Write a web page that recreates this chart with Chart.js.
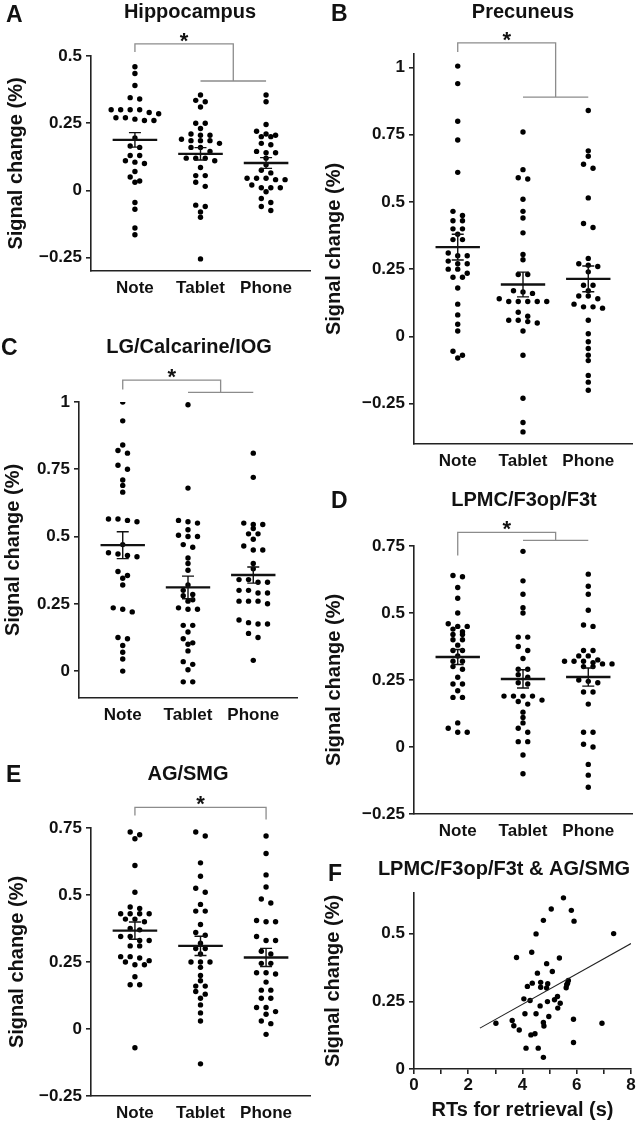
<!DOCTYPE html>
<html>
<head>
<meta charset="utf-8">
<title>Signal change by device</title>
<script src="https://cdn.jsdelivr.net/npm/chart.js@4.4.1/dist/chart.umd.min.js"></script>
<style>
    body { margin: 0; background: #fff; }
    #fig { position: relative; width: 638px; height: 1123px; }
    #fig canvas { position: absolute; }
</style>
</head>
<body>
<div id="fig">
    <canvas id="chartA" width="320" height="300" style="left:0;top:0"></canvas>
    <canvas id="chartB" width="318" height="470" style="left:320px;top:0"></canvas>
    <canvas id="chartC" width="320" height="400" style="left:0;top:330px"></canvas>
    <canvas id="chartD" width="318" height="370" style="left:320px;top:480px"></canvas>
    <canvas id="chartE" width="320" height="383" style="left:0;top:740px"></canvas>
    <canvas id="chartF" width="318" height="273" style="left:320px;top:850px"></canvas>
</div>
<script>
// --- Data ---
const groupNames = ['Note', 'Tablet', 'Phone'];

// A: Hippocampus
const hippoNote = [0.46, 0.435, 0.39, 0.345, 0.34, 0.30, 0.30, 0.30, 0.30, 0.29, 0.285, 0.27, 0.27, 0.265, 0.26, 0.26,
    0.195, 0.165, 0.16, 0.13, 0.13, 0.11, 0.105, 0.10, 0.07, 0.05, 0.035, 0.03, -0.045, -0.07, -0.14, -0.165];
const hippoTablet = [0.355, 0.335, 0.33, 0.31, 0.25, 0.25, 0.23, 0.21, 0.205, 0.205, 0.19, 0.185, 0.185, 0.185, 0.175, 0.16,
    0.16, 0.145, 0.12, 0.12, 0.12, 0.11, 0.085, 0.055, 0.055, 0.03, 0.015, -0.055, -0.06, -0.08, -0.10, -0.255];
const hippoPhone = [0.355, 0.33, 0.245, 0.22, 0.21, 0.205, 0.20, 0.20, 0.175, 0.17, 0.145, 0.14, 0.14, 0.12, 0.095, 0.075,
    0.065, 0.045, 0.045, 0.045, 0.04, 0.04, 0.02, 0.01, 0.01, 0.01, -0.005, -0.03, -0.045, -0.06, -0.075];
const hippoMean = [0.188, 0.136, 0.102];
const hippoSem = [0.027, 0.023, 0.020];
const hippoTicks = [-0.25, 0, 0.25, 0.5];

// B: Precuneus
const precNote = [1.005, 0.94, 0.80, 0.73, 0.61, 0.465, 0.45, 0.43, 0.43, 0.40, 0.40, 0.38, 0.36, 0.36, 0.31, 0.30, 0.30,
    0.28, 0.27, 0.27, 0.25, 0.25, 0.235, 0.22, 0.22, 0.18, 0.12, 0.08, 0.045, 0.02, -0.055, -0.07, -0.08];
const precTablet = [0.76, 0.62, 0.59, 0.585, 0.51, 0.465, 0.44, 0.385, 0.305, 0.285, 0.23, 0.23, 0.17, 0.165, 0.16, 0.14,
    0.13, 0.13, 0.13, 0.13, 0.13, 0.09, 0.075, 0.06, 0.06, 0.055, 0.05, 0.02, -0.07, -0.23, -0.32, -0.355];
const precPhone = [0.84, 0.69, 0.67, 0.64, 0.625, 0.515, 0.42, 0.405, 0.29, 0.27, 0.265, 0.26, 0.24, 0.19, 0.19, 0.17,
    0.15, 0.15, 0.14, 0.12, 0.11, 0.11, 0.105, 0.06, 0.01, -0.02, -0.045, -0.07, -0.09, -0.145, -0.17, -0.20];
const precMean = [0.332, 0.193, 0.214];
const precSem = [0.048, 0.046, 0.048];
const precTicks = [-0.25, 0, 0.25, 0.5, 0.75, 1];

// C: LG/Calcarine/IOG
const lgNote = [1.0, 0.93, 0.84, 0.82, 0.81, 0.765, 0.75, 0.71, 0.69, 0.665, 0.565, 0.565, 0.56, 0.555, 0.47, 0.44, 0.435,
    0.43, 0.425, 0.37, 0.355, 0.345, 0.32, 0.235, 0.23, 0.22, 0.125, 0.12, 0.095, 0.07, 0.045, 0.0];
const lgTablet = [0.99, 0.68, 0.56, 0.555, 0.55, 0.525, 0.505, 0.50, 0.50, 0.47, 0.46, 0.42, 0.40, 0.375, 0.32, 0.30,
    0.285, 0.28, 0.265, 0.26, 0.235, 0.23, 0.23, 0.17, 0.17, 0.145, 0.12, 0.105, 0.10, 0.075, 0.035, 0.025, 0.005, -0.04, -0.04];
const lgPhone = [0.81, 0.72, 0.55, 0.545, 0.545, 0.53, 0.51, 0.51, 0.49, 0.465, 0.45, 0.45, 0.40, 0.38, 0.34, 0.34, 0.33,
    0.33, 0.30, 0.30, 0.29, 0.29, 0.26, 0.26, 0.26, 0.25, 0.19, 0.18, 0.175, 0.175, 0.14, 0.125, 0.04];
const lgMean = [0.468, 0.311, 0.357];
const lgSem = [0.050, 0.042, 0.030];
const lgTicks = [0, 0.25, 0.5, 0.75, 1];

// D: LPMC/F3op/F3t
const lpmcNote = [0.64, 0.635, 0.595, 0.555, 0.50, 0.46, 0.45, 0.45, 0.44, 0.43, 0.42, 0.42, 0.40, 0.40, 0.38, 0.36,
    0.36, 0.34, 0.32, 0.32, 0.30, 0.29, 0.26, 0.235, 0.235, 0.21, 0.185, 0.185, 0.09, 0.07, 0.055, 0.055];
const lpmcTablet = [0.73, 0.62, 0.57, 0.52, 0.50, 0.41, 0.41, 0.375, 0.36, 0.33, 0.29, 0.29, 0.27, 0.26, 0.24, 0.235,
    0.19, 0.19, 0.19, 0.19, 0.175, 0.17, 0.16, 0.13, 0.11, 0.09, 0.07, 0.055, 0.02, 0.02, -0.03, -0.10];
const lpmcPhone = [0.645, 0.60, 0.57, 0.51, 0.455, 0.45, 0.36, 0.36, 0.34, 0.34, 0.325, 0.32, 0.32, 0.32, 0.315, 0.31,
    0.31, 0.30, 0.30, 0.25, 0.245, 0.24, 0.205, 0.205, 0.16, 0.055, 0.055, 0.01, 0.0, -0.065, -0.105, -0.15];
const lpmcMean = [0.336, 0.254, 0.261];
const lpmcSem = [0.028, 0.034, 0.034];
const lpmcTicks = [-0.25, 0, 0.25, 0.5, 0.75];

// E: AG/SMG
const agNote = [0.735, 0.725, 0.71, 0.61, 0.51, 0.455, 0.45, 0.43, 0.43, 0.43, 0.43, 0.41, 0.41, 0.40, 0.375, 0.37,
    0.345, 0.345, 0.33, 0.33, 0.31, 0.31, 0.27, 0.27, 0.265, 0.255, 0.25, 0.24, 0.24, 0.195, 0.165, 0.165, -0.07];
const agTablet = [0.735, 0.72, 0.62, 0.57, 0.525, 0.51, 0.465, 0.44, 0.44, 0.39, 0.36, 0.35, 0.32, 0.30, 0.30, 0.28,
    0.25, 0.25, 0.25, 0.23, 0.20, 0.18, 0.16, 0.16, 0.14, 0.13, 0.115, 0.09, 0.06, 0.03, -0.13];
const agPhone = [0.72, 0.655, 0.575, 0.53, 0.485, 0.47, 0.405, 0.40, 0.40, 0.345, 0.33, 0.33, 0.29, 0.28, 0.245, 0.245,
    0.21, 0.21, 0.205, 0.175, 0.145, 0.145, 0.115, 0.115, 0.08, 0.08, 0.065, 0.055, 0.03, 0.02, -0.02];
const agMean = [0.367, 0.310, 0.267];
const agSem = [0.032, 0.036, 0.034];
const agTicks = [-0.25, 0, 0.25, 0.5, 0.75];

// F: RT vs signal change (LPMC/F3op/F3t & AG/SMG)
const rtSeconds = [3.02, 3.62, 3.68, 3.88, 3.78, 4.05, 4.09, 4.13, 4.18, 4.28, 4.34, 4.36, 4.31, 4.46, 4.50, 4.50,
    4.55, 4.58, 4.65, 4.67, 4.67, 4.77, 4.77, 4.79, 4.77, 4.89, 4.89, 4.93, 4.92, 4.97, 5.06, 5.10, 5.18, 5.29, 5.30,
    5.36, 5.39, 5.51, 5.61, 5.66, 5.69, 5.63, 5.80, 5.90, 5.88, 5.88, 6.93, 7.36];
const rtSignal = [0.169, 0.179, 0.160, 0.144, 0.412, 0.259, 0.204, 0.077, 0.305, 0.253, 0.431, 0.317, 0.126, 0.130,
    0.499, 0.204, 0.354, 0.077, 0.233, 0.320, 0.302, 0.549, 0.172, 0.159, 0.043, 0.389, 0.299, 0.315, 0.249, 0.194,
    0.591, 0.360, 0.256, 0.268, 0.225, 0.410, 0.243, 0.632, 0.300, 0.317, 0.327, 0.311, 0.586, 0.546, 0.184, 0.098,
    0.169, 0.500];
const fitSlope = 0.0561;
const fitIntercept = 0.0146;
const fitRange = [2.43, 8.0];
const rtTicksY = [0, 0.25, 0.5];

// --- Styles ---
const FONT = '"Liberation Sans", Arial, Helvetica, sans-serif';
const ink = '#111';
const axisColor = '#222';
const bracketColor = '#8c8c8c';
const tickFont = { family: FONT, size: 17, weight: 'bold' };
const axisTitleFont = { family: FONT, size: 20, weight: 'bold' };
const X_MIN = 0.33, X_MAX = 3.67;
const MEAN_HALF = 0.34;   // half width of the mean bar (x units)
const CAP_PX = 6;         // half width of SEM caps
const SWARM_STEP = 9.5;   // horizontal spacing between neighbouring dots (px)
const SWARM_ROW = 5.2;    // dots closer than this (px) share a row

const fmtTick = v => (v < 0 ? '\u2212' + String(-v) : String(v));

// Beeswarm layout: values that fall in the same row are spread around the category centre
const swarm = (values, centre, yPerPx, xPerPx) => {
    const sorted = values.slice().sort((a, b) => b - a);
    const rows = [];
    let row = null;
    sorted.forEach(v => {
        if (row && (row.start - v) / yPerPx < SWARM_ROW) row.vals.push(v);
        else { row = { start: v, vals: [v] }; rows.push(row); }
    });
    const pts = [];
    rows.forEach(r => {
        const n = r.vals.length;
        r.vals.forEach((v, i) => pts.push({ x: centre + (i - (n - 1) / 2) * SWARM_STEP * xPerPx, y: v }));
    });
    return pts;
};

// --- Plugin: panel letter, title, significance bracket ---
const decorPlugin = {
    id: 'decor',
    afterDraw(chart, args, opts) {
        const ctx = chart.ctx;
        ctx.save();
        ctx.fillStyle = ink;
        ctx.textBaseline = 'alphabetic';
        ctx.font = `bold 23px ${FONT}`;
        ctx.textAlign = 'left';
        ctx.fillText(opts.letter, opts.letterX, opts.letterY);
        ctx.font = `bold 20px ${FONT}`;
        ctx.textAlign = 'center';
        ctx.fillText(opts.title, opts.titleX, opts.titleY);

        const br = opts.bracket;
        if (br) {
            const X = v => chart.scales.x.getPixelForValue(v);
            const Y = v => chart.scales.y.getPixelForValue(v);
            ctx.strokeStyle = bracketColor;
            ctx.lineWidth = 1.3;
            ctx.beginPath();
            let starX;
            if (br.kind === 'split') {
                ctx.moveTo(X(1), Y(br.drop));
                ctx.lineTo(X(1), Y(br.top));
                ctx.lineTo(X(2.5), Y(br.top));
                ctx.lineTo(X(2.5), Y(br.low));
                ctx.moveTo(X(2), Y(br.low));
                ctx.lineTo(X(3), Y(br.low));
                starX = X(1.75);
            } else {
                ctx.moveTo(X(1), Y(br.drop));
                ctx.lineTo(X(1), Y(br.top));
                ctx.lineTo(X(3), Y(br.top));
                ctx.lineTo(X(3), Y(br.low));
                starX = X(2);
            }
            ctx.stroke();
            ctx.font = `bold 22px ${FONT}`;
            ctx.fillText('*', starX, Y(br.top) + 4);
        }
        ctx.restore();
    }
};

const baseScaleY = (p) => ({
    min: p.yMin,
    max: p.yMax,
    afterFit: s => { s.width = p.area.l; },
    afterBuildTicks: s => { s.ticks = p.ticks.map(v => ({ value: v })); },
    grid: { drawOnChartArea: false, drawTicks: true, tickLength: 5, color: axisColor, lineWidth: 1.6 },
    border: { display: true, color: axisColor, width: 1.6 },
    ticks: { callback: fmtTick, font: tickFont, color: ink, padding: 4 },
    title: { display: true, text: 'Signal change (%)', font: axisTitleFont, color: ink, padding: { top: p.titleOffset, bottom: 0 } }
});

// --- Group panels (A–E) ---
const groupPanels = [
    { id: 'chartA', letter: 'A', title: 'Hippocampus', w: 320, h: 300, area: { l: 91, t: 56, r: 310, b: 271 },
      data: [hippoNote, hippoTablet, hippoPhone], mean: hippoMean, sem: hippoSem, ticks: hippoTicks, yMin: -0.3, yMax: 0.5,
      titleOffset: 4, letterPos: [6, 22], titlePos: [190, 18],
      bracket: { kind: 'split', drop: 0.515, top: 0.545, low: 0.407 } },
    { id: 'chartB', letter: 'B', title: 'Precuneus', w: 318, h: 470, area: { l: 94, t: 54, r: 312, b: 444 },
      data: [precNote, precTablet, precPhone], mean: precMean, sem: precSem, ticks: precTicks, yMin: -0.4, yMax: 1.05,
      titleOffset: 2, letterPos: [11, 21], titlePos: [203, 18],
      bracket: { kind: 'split', drop: 1.057, top: 1.091, low: 0.89 } },
    { id: 'chartC', letter: 'C', title: 'LG/Calcarine/IOG', w: 320, h: 400, area: { l: 79, t: 72, r: 297, b: 368 },
      data: [lgNote, lgTablet, lgPhone], mean: lgMean, sem: lgSem, ticks: lgTicks, yMin: -0.1, yMax: 1.0,
      titleOffset: 1, letterPos: [1, 25], titlePos: [189, 23],
      bracket: { kind: 'split', drop: 1.046, top: 1.081, low: 1.036 } },
    { id: 'chartD', letter: 'D', title: 'LPMC/F3op/F3t', w: 318, h: 370, area: { l: 94, t: 66, r: 312, b: 334 },
      data: [lpmcNote, lpmcTablet, lpmcPhone], mean: lpmcMean, sem: lpmcSem, ticks: lpmcTicks, yMin: -0.25, yMax: 0.75,
      titleOffset: 2, letterPos: [11, 28], titlePos: [204, 26],
      bracket: { kind: 'split', drop: 0.715, top: 0.801, low: 0.771 } },
    { id: 'chartE', letter: 'E', title: 'AG/SMG', w: 320, h: 383, area: { l: 91, t: 88, r: 310, b: 356 },
      data: [agNote, agTablet, agPhone], mean: agMean, sem: agSem, ticks: agTicks, yMin: -0.25, yMax: 0.75,
      titleOffset: 5, letterPos: [6, 42], titlePos: [188, 40],
      bracket: { kind: 'pair', drop: 0.797, top: 0.827, low: 0.782 } }
];

groupPanels.forEach(p => {
    const yPerPx = (p.yMax - p.yMin) / (p.area.b - p.area.t);
    const xPerPx = (X_MAX - X_MIN) / (p.area.r - p.area.l);
    const capHalf = CAP_PX * xPerPx;

    const dotSets = p.data.map((vals, i) => ({
        type: 'scatter',
        data: swarm(vals, i + 1, yPerPx, xPerPx),
        pointRadius: 2.7,
        pointBackgroundColor: '#000',
        pointBorderWidth: 0,
        order: 2
    }));

    // Mean bars and SEM whiskers, separated by null gaps
    const meanPts = [], semPts = [];
    p.mean.forEach((m, i) => {
        const c = i + 1, s = p.sem[i];
        meanPts.push({ x: c - MEAN_HALF, y: m }, { x: c + MEAN_HALF, y: m }, { x: c, y: null });
        semPts.push({ x: c, y: m - s }, { x: c, y: m + s }, { x: c, y: null },
            { x: c - capHalf, y: m + s }, { x: c + capHalf, y: m + s }, { x: c, y: null },
            { x: c - capHalf, y: m - s }, { x: c + capHalf, y: m - s }, { x: c, y: null });
    });

    new Chart(document.getElementById(p.id), {
        type: 'scatter',
        data: {
            datasets: [
                { data: meanPts, showLine: true, spanGaps: false, borderColor: ink, borderWidth: 2.4, pointRadius: 0, order: 0 },
                { data: semPts, showLine: true, spanGaps: false, borderColor: ink, borderWidth: 1.4, pointRadius: 0, order: 1 },
                ...dotSets
            ]
        },
        options: {
            responsive: false,
            animation: false,
            devicePixelRatio: 1,
            layout: { padding: { left: 0, top: p.area.t, right: p.w - p.area.r, bottom: 0 } },
            plugins: {
                legend: { display: false },
                tooltip: { enabled: false },
                decor: { letter: p.letter, letterX: p.letterPos[0], letterY: p.letterPos[1],
                         title: p.title, titleX: p.titlePos[0], titleY: p.titlePos[1], bracket: p.bracket }
            },
            scales: {
                x: {
                    type: 'linear',
                    min: X_MIN,
                    max: X_MAX,
                    afterFit: s => { s.height = p.h - p.area.b; },
                    afterBuildTicks: s => { s.ticks = [1, 2, 3].map(v => ({ value: v })); },
                    grid: { drawOnChartArea: false, drawTicks: false },
                    border: { display: true, color: axisColor, width: 1.6 },
                    ticks: { callback: v => groupNames[v - 1] || '', font: tickFont, color: ink, padding: 7,
                             autoSkip: false, maxRotation: 0 }
                },
                y: baseScaleY(p)
            }
        },
        plugins: [decorPlugin]
    });
});

// --- Panel F: correlation ---
const panelF = { w: 318, h: 273, area: { l: 94, t: 43, r: 311, b: 219 }, yMin: 0, yMax: 0.65, ticks: rtTicksY, titleOffset: 1 };

new Chart(document.getElementById('chartF'), {
    type: 'scatter',
    data: {
        datasets: [
            {
                data: fitRange.map(x => ({ x, y: fitIntercept + fitSlope * x })),
                showLine: true, borderColor: axisColor, borderWidth: 1.1, pointRadius: 0, order: 0
            },
            {
                data: rtSeconds.map((x, i) => ({ x, y: rtSignal[i] })),
                pointRadius: 2.7, pointBackgroundColor: '#000', pointBorderWidth: 0, order: 1
            }
        ]
    },
    options: {
        responsive: false,
        animation: false,
        devicePixelRatio: 1,
        layout: { padding: { left: 0, top: panelF.area.t, right: panelF.w - panelF.area.r, bottom: 0 } },
        plugins: {
            legend: { display: false },
            tooltip: { enabled: false },
            decor: { letter: 'F', letterX: 8, letterY: 31, title: 'LPMC/F3op/F3t & AG/SMG', titleX: 184, titleY: 25 }
        },
        scales: {
            x: {
                type: 'linear',
                min: 0,
                max: 8,
                afterFit: s => { s.height = panelF.h - panelF.area.b; },
                grid: { drawOnChartArea: false, drawTicks: true, tickLength: 5, color: axisColor, lineWidth: 1.6 },
                border: { display: true, color: axisColor, width: 1.6 },
                ticks: { stepSize: 1, callback: v => (v % 2 === 0 ? String(v) : ''), font: tickFont, color: ink,
                         padding: 1, autoSkip: false, maxRotation: 0 },
                title: { display: true, text: 'RTs for retrieval (s)', font: axisTitleFont, color: ink, padding: { top: 0, bottom: 1 } }
            },
            y: baseScaleY(panelF)
        }
    },
    plugins: [decorPlugin]
});
</script>
</body>
</html>
